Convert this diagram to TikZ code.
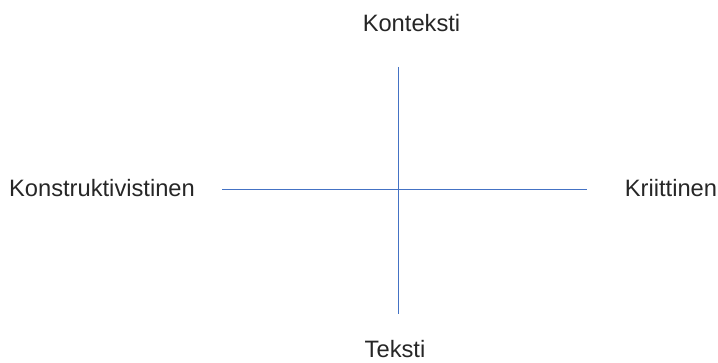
\documentclass[tikz,border=0pt]{standalone}
\usepackage{fontspec}
\setmainfont{Liberation Sans}
\usetikzlibrary{positioning}
\usetikzlibrary{calc}
\definecolor{axisblue}{RGB}{68,114,196}
\definecolor{labelgray}{RGB}{38,38,38}
\tikzset{axis label/.style={text=labelgray, inner sep=0pt, anchor=base, font=\fontsize{23.7}{28}\selectfont}}
\tikzset{axis line/.style={draw=axisblue, line width=1pt}}

\begin{document}
\begin{tikzpicture}[x=1pt, y=1pt]
\useasboundingbox (0,0) rectangle (718,362);
\coordinate (top) at (398,295);
\coordinate (bottom) at (398,48);
\coordinate (left) at (222,172);
\coordinate (right) at (587,172);
\draw[axis line] (top) -- (bottom);
\draw[axis line] (left) -- (right);

\node[axis label] (kontext) at (411.5,330) {Konteksti};
\node[axis label] (teksti) at (395,5) {Teksti};
\node[axis label] (konstr) at (102,165) {Konstruktivistinen};
\node[axis label] (kriit) at (671,165) {Kriittinen};
\end{tikzpicture}
\end{document}
